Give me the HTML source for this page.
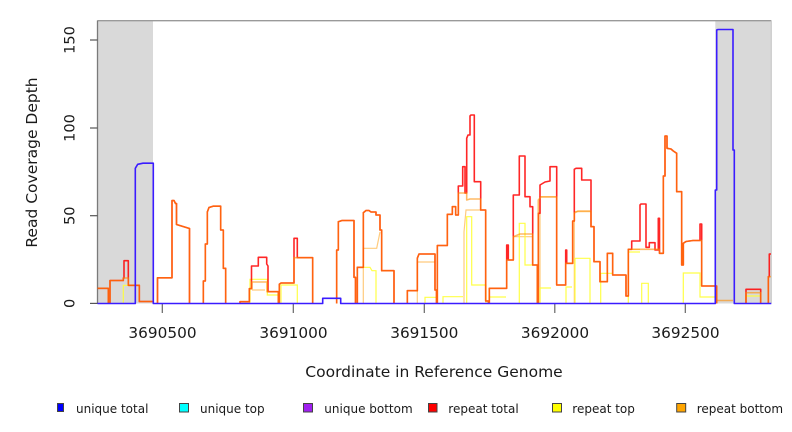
<!DOCTYPE html>
<html><head><meta charset="utf-8"><style>
html,body{margin:0;padding:0;background:#fff;}
svg{display:block;}
text{font-family:"DejaVu Sans","Liberation Sans",sans-serif;fill:#1a1a1a;}
</style></head><body>
<svg width="792" height="432" viewBox="0 0 792 432" xmlns="http://www.w3.org/2000/svg">
<rect x="0" y="0" width="792" height="432" fill="#fff"/>
<!-- shaded regions -->
<rect x="97.5" y="20.5" width="55.5" height="283" fill="#d9d9d9"/>
<rect x="715.3" y="20.5" width="56" height="283" fill="#d9d9d9"/>
<!-- frame -->
<line x1="97.5" y1="20.7" x2="771.3" y2="20.7" stroke="#9a9a9a" stroke-width="1.3"/>
<line x1="771.3" y1="20.5" x2="771.3" y2="303.5" stroke="#c4c4c4" stroke-width="1"/>
<line x1="97.5" y1="20.5" x2="97.5" y2="304" stroke="#7a7a7a" stroke-width="1.3"/>
<!-- y ticks -->
<g stroke="#555" stroke-width="1.2">
<line x1="90" y1="40" x2="97.5" y2="40"/>
<line x1="90" y1="128" x2="97.5" y2="128"/>
<line x1="90" y1="215.7" x2="97.5" y2="215.7"/>
<line x1="90" y1="303.4" x2="97.5" y2="303.4"/>
</g>
<!-- x ticks -->
<g stroke="#666" stroke-width="1.2">
<line x1="162.3" y1="304" x2="162.3" y2="313"/>
<line x1="293.3" y1="304" x2="293.3" y2="313"/>
<line x1="424.3" y1="304" x2="424.3" y2="313"/>
<line x1="554.8" y1="304" x2="554.8" y2="313"/>
<line x1="685.3" y1="304" x2="685.3" y2="313"/>
</g>

<!-- light orange (repeat bottom faint parts) -->
<path fill="none" stroke="#ffc266" stroke-width="1.2" stroke-opacity="0.85" d="
M128.3,285.3 H139.3
M252,290 H265
M363.3,303.5 V248.3 H376.7 L380,232
M464,303.5 V232 L466,210 H480.7
M513.3,236.7 H532.7
M540,303.5 V196.7 H556.7
M574.3,303.5 V211.7 H591
M628.3,249.3 H640
M417.3,303.5 V262 H435"/>

<!-- yellow (repeat top) -->
<path fill="none" stroke="#ffff33" stroke-width="1.2" stroke-opacity="0.9" d="
M123.3,303.5 V285.3 H128.3
M250,303.5 V279.3 H267.3 V295 H278.3
M281,303.5 V285 H297.3 V303.5
M363.3,267.3 H370 L372,270.7 H376 V303.5
M425,303.5 V297.3 H436
M443,303.5 V296.7 H463
M466.7,303.5 V216.7 H471.7 V285 H486 V303.5
M489.3,303.5 V297 H506
M519.3,303.5 V223.3 H525 V265 H532.7
M540,303.5 V288 H551
M566,303.5 V287 H572
M575,303.5 V258.3 H590 V303.5
M600.7,303.5 V273.3 H612
M628.3,303.5 V252 H640
M641.7,303.5 V283.3 H648.3 V303.5
M683.3,303.5 V273 H700 V297 H716
M746,303.5 V296 H760"/>

<!-- repeat total (red) -->
<path fill="none" stroke="#ff0000" stroke-width="1.6" stroke-opacity="0.85" stroke-linejoin="round" d="
M97.5,288.3 H108.3 V303.5 M110,303.5 V280.5 H123.3 V278 H124 V260.7 H128.3 V285.3 H139.3 V301.5 H153
M157.5,303.5 V277.8 H172 V200.5 H174 L175.5,203.5 H176.5 V224.5 L189.5,228.5 V303.5
M203.3,303.5 V281 H205.3 V244 H207.3 V212 L209,207.5 L213,206.2 H220.7 V230 H223.3 V268.3 H225.7 V303.5
M240,303.5 V301.7 H249.3 V288.7 H251.5 V266 H258.3 V257.3 H266.7 V264 L268,266 V291.7 H278.3 V303.5 M279.3,303.5 V284.3 L281,283 H294 V238.3 H297.3 V257.7 H312.7 V303.5
M336.7,303.5 V250 H338.3 V221.7 L342,220.5 H354 V277.3 H355.5 V303.5
M357.3,303.5 V267.3 H363.3 V212.7 L366,210.5 L369,210.5 L371,212 H376 V215 H380 V230 H381.7 V270.7 H394 V303.5
M407.3,303.5 V290.7 H417.3 V258.3 L419,254 H435 V290 H436.5 V303.5 M437.3,303.5 V245.5 H447.3 V214.3 H452.3 V206.7 H455.7 V215 H458.3 V186 H462.7 V166.7 H465 V193 H466.7 V138.3 L468,135 H470 V116 L471,115 H474.3 V181.7 H480.7 V210 H485.7 V301 H488.3 V303.5
M489.3,303.5 V288.3 H506.7 V245 H508.3 V260 H513.3 V195 H519.3 V156 H525 V196.7 H530 V206.7 H532.7 V265 H537.3 V303.5
M538.3,303.5 V213.3 H540 V185 L545,182 L550,181 V166.7 H556.7 V285 H565.7 V250 H566.7 V263.3 H572.7 V221 H574.3 V169.3 L576,168.3 H581.7 V180 H591 V226.7 H594 V261.7 H600 V281.7 H607.3 V253.3 H612.7 V275 H626 V296 H628.3 V249.3 H631.7 V241 H640 V205 L641,204 H646 V247.3 H649.3 V242.7 H655 V250 H658.3 V218.3 H659.5 V253.3 H663.3 V176 H665 V136 H667 V148.3 L671,149 L673.3,151 L676.7,153.3 V191.7 H681.7 V265 H683.3 V243.3 L686,241.5 L693,240.5 H700 V224 H701.7 V286 H716.7 V303.5
M746,303.5 V289.3 H760.7 V303.5 M768.3,303.5 V276.7 H769.3 V254 H771"/>

<!-- repeat bottom (orange) -->
<path fill="none" stroke="#ff8c00" stroke-width="1.6" stroke-opacity="0.6" stroke-linejoin="round" d="
M97.5,288.3 H108.3 V303.5 M110,303.5 V280.5 H123.3 V278 H128.3 V285.3 H139.3 V301.5 H153
M157.5,303.5 V277.8 H172 V200.5 H174 L175.5,203.5 H176.5 V224.5 L189.5,228.5 V303.5
M203.3,303.5 V281 H205.3 V244 H207.3 V212 L209,207.5 L213,206.2 H220.7 V230 H223.3 V268.3 H225.7 V303.5
M240,303.5 V301.7 H249.3 V288.7 H252 V282 H267 V291.7 H278.3 V303.5 M279.3,303.5 V284.3 L281,283 H294 V257.7 H312.7 V303.5
M336.7,303.5 V250 H338.3 V221.7 L342,220.5 H354 V277.3 H355.5 V303.5
M357.3,303.5 V267.3 H363.3 V212.7 L366,210.5 L369,210.5 L371,212 H376 V215 H380 V230 H381.7 V270.7 H394 V303.5
M407.3,303.5 V290.7 H417.3 V258.3 L419,254 H435 V290 H436.5 V303.5 M437.3,303.5 V245.5 H447.3 V214.3 H452.3 V206.7 H455.7 V215 H458.3 V193 H466.7 V200 L470,199 H480.7 V210 H485.7 V301 H488.3 V303.5
M489.3,303.5 V288.3 H506.7 V260 H513.3 V236.7 L520,234 H532.7 V265 H537.3 V303.5
M538.3,303.5 V200 L541,197 H556.7 V285 H565.7 V263.3 H572.7 V221 H574.3 V213 L578,211 H591 V226.7 H594 V261.7 H600 V281.7 H607.3 V253.3 H612.7 V275 H626 V296 H628.3 V249.3 H659.5 V253.3 H663.3 V176 H665 V136 H667 V148.3 L671,149 L673.3,151 L676.7,153.3 V191.7 H681.7 V265 H683.3 V243.3 L686,241.5 L693,240.5 H701.7 V286 H716.7 V303.5
M716.7,300.5 H733
M746,303.5 V292.7 H760.7 V303.5 M768.3,303.5 V276.7 H771"/>

<!-- unique total (blue) -->
<path fill="none" stroke="#3a1cff" stroke-width="1.6" stroke-linejoin="round" d="
M97.5,303.5 H135.3 V168.3 L137.7,164.3 L143,163.2 H153.3 V303.5 H322.7 V298.3 H340.7 V303.5 H715.3 V190 H716.7 V30 L718,29.5 H733 V150 H734.3 V303.5 H771.3"/>

<!-- y tick labels -->
<g font-size="14.5" text-anchor="middle">
<text transform="translate(74.5,40) rotate(-90)">150</text>
<text transform="translate(74.5,128) rotate(-90)">100</text>
<text transform="translate(74.5,215.7) rotate(-90)">50</text>
<text transform="translate(74.5,303.4) rotate(-90)">0</text>
</g>
<!-- x tick labels -->
<g font-size="15.3" text-anchor="middle">
<text x="162.5" y="338">3690500</text>
<text x="293.5" y="338">3691000</text>
<text x="424.3" y="338">3691500</text>
<text x="555" y="338">3692000</text>
<text x="685.5" y="338">3692500</text>
</g>
<!-- axis titles -->
<text x="434" y="377" font-size="15.5" text-anchor="middle">Coordinate in Reference Genome</text>
<text transform="translate(37,162.5) rotate(-90)" font-size="15.5" text-anchor="middle">Read Coverage Depth</text>

<!-- legend -->
<g stroke="#444" stroke-width="1">
<rect x="57.5" y="403.5" width="6" height="8" fill="#0000ff"/>
<rect x="179.5" y="403.5" width="9" height="8.5" fill="#00ffff"/>
<rect x="303.5" y="403.5" width="9" height="8.5" fill="#a020f0"/>
<rect x="428.5" y="403.5" width="8.5" height="8.5" fill="#ff0000"/>
<rect x="552.5" y="403.5" width="9" height="8.5" fill="#ffff00"/>
<rect x="676.7" y="403.5" width="9" height="8.5" fill="#ffa500"/>
</g>
<g font-size="12">
<text x="76" y="413">unique total</text>
<text x="200" y="413">unique top</text>
<text x="324.3" y="413">unique bottom</text>
<text x="448.3" y="413">repeat total</text>
<text x="572.3" y="413">repeat top</text>
<text x="696.7" y="413">repeat bottom</text>
</g>
</svg>
</body></html>
